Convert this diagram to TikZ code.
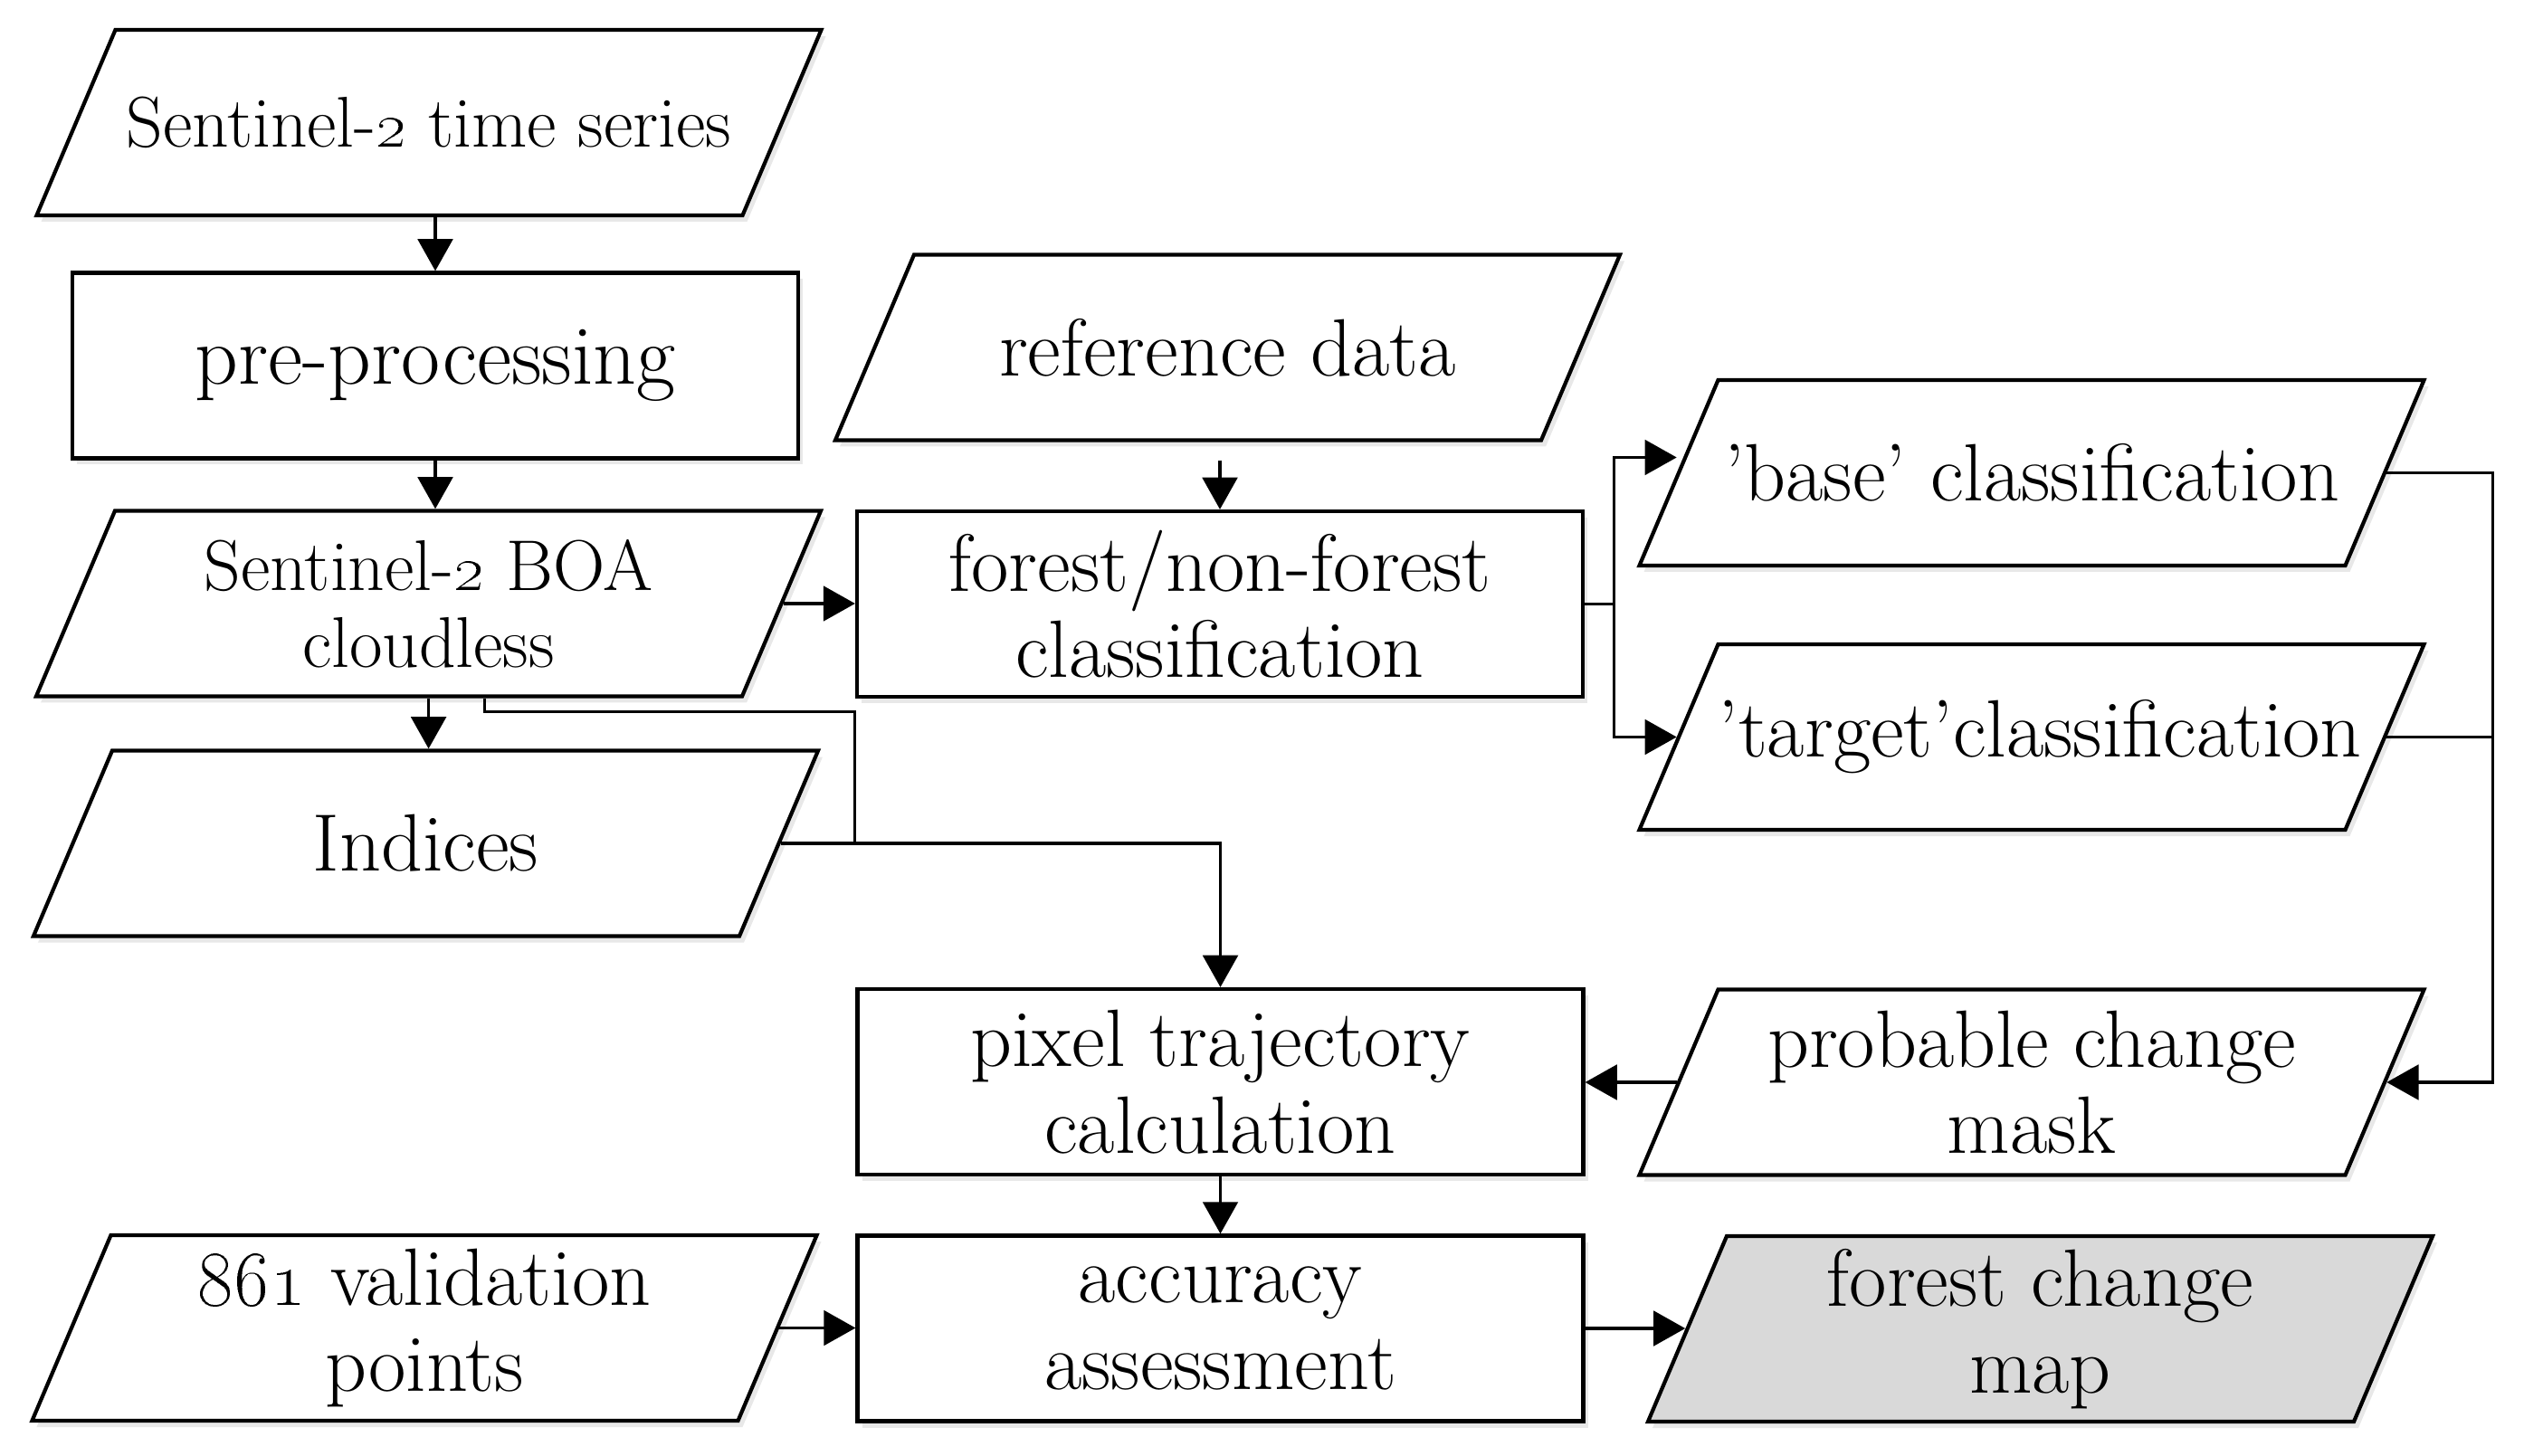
\documentclass[tikz,border=0pt]{standalone}
\usetikzlibrary{shapes.geometric,arrows.meta,shadows}
\begin{document}
\begin{tikzpicture}[
    shapebox/.style={draw, line width=1.2pt, fill=white, inner sep=0pt,
      font=\fontsize{25.6}{27.2}\selectfont,
      drop shadow={opacity=.18, shadow xshift=.05cm, shadow yshift=-.07cm}},
    procnode/.style={shapebox, rectangle, align=center, minimum width=8.02cm, minimum height=2.05cm},
    datanode/.style={shapebox, trapezium, trapezium left angle=67, trapezium right angle=113,
      execute at begin node={\begin{minipage}[c][2.05cm][c]{6.93cm}\centering},
      execute at end node={\end{minipage}}},
    line/.style={line width=.9pt},
    arr/.style={line, -{Triangle[length=10pt,width=11pt]}}
  ]
    \useasboundingbox (0,0) rectangle (27.89,-16.09) ;
    % left column
    \node[datanode, font=\fontsize{22.6}{24.4}\selectfont] (ts) at (4.74,-1.355) {Sentinel-\oldstylenums{2} time series} ;
    \node[procnode, font=\fontsize{26.6}{28}\selectfont] (pre) at (4.81,-4.04) {pre-processing} ;
    \node[datanode, font=\fontsize{22.6}{24.2}\selectfont] (boa) at (4.735,-6.67) {Sentinel-\oldstylenums{2} BOA\\cloudless} ;
    \node[datanode] (ind) at (4.705,-9.32) {Indices} ;
    \node[datanode] (val) at (4.69,-14.675) {\oldstylenums{861} validation\\points} ;
    % middle column
    \node[datanode] (ref) at (13.565,-3.84) {reference data} ;
    \node[procnode] (fnf) at (13.48,-6.675) {forest/non-forest\\classification} ;
    \node[procnode] (pix) at (13.485,-11.955) {pixel trajectory\\calculation} ;
    \node[procnode] (acc) at (13.485,-14.68) {accuracy\\assessment} ;
    % right column
    \node[datanode] (bas) at (22.45,-5.225) {'base' classification} ;
    \node[datanode] (tgt) at (22.45,-8.145) {'target'classification} ;
    \node[datanode] (msk) at (22.45,-11.96) {probable change\\mask} ;
    \node[datanode, fill=black!15] (map) at (22.545,-14.685) {forest change\\map} ;
    % connectors
    \draw[arr] (ts.south -| pre.north) -- (pre.north) ;
    \draw[arr] (pre.south) -- (pre.south |- boa.north) ;
    \draw[arr] (boa.east) -- (boa.east -| fnf.west) ;
    \draw[arr] (boa.south) -- (boa.south |- ind.north) ;
    \coordinate (jn) at (fnf.west |- ind.east) ;
    \draw[line] ([xshift=6.2mm]boa.south) -- ++(0,-0.15) -| (jn) ;
    \draw[arr] (ind.east) -| (pix.north) ;
    \draw[arr, shorten <=2mm] (ref.south -| fnf.north) -- (fnf.north) ;
    \coordinate (sp) at ([xshift=3.2mm]fnf.east) ;
    \draw[line] (fnf.east) -- (sp) ;
    \draw[arr] (sp) |- ([yshift=1.7mm]bas.west) ;
    \draw[arr] (sp) |- (tgt.west) ;
    \coordinate (rt) at ([xshift=1.17cm]bas.east) ;
    \draw[arr] (bas.east) -- (rt) |- (msk.east) ;
    \draw[line] (tgt.east) -- (tgt.east -| rt) ;
    \draw[arr] (msk.west) -- (msk.west -| pix.east) ;
    \draw[arr] (pix.south) -- (acc.north) ;
    \draw[arr] (val.east) -- (val.east -| acc.west) ;
    \draw[arr] (acc.east) -- (acc.east -| map.west) ;
  \end{tikzpicture}
\end{document}
